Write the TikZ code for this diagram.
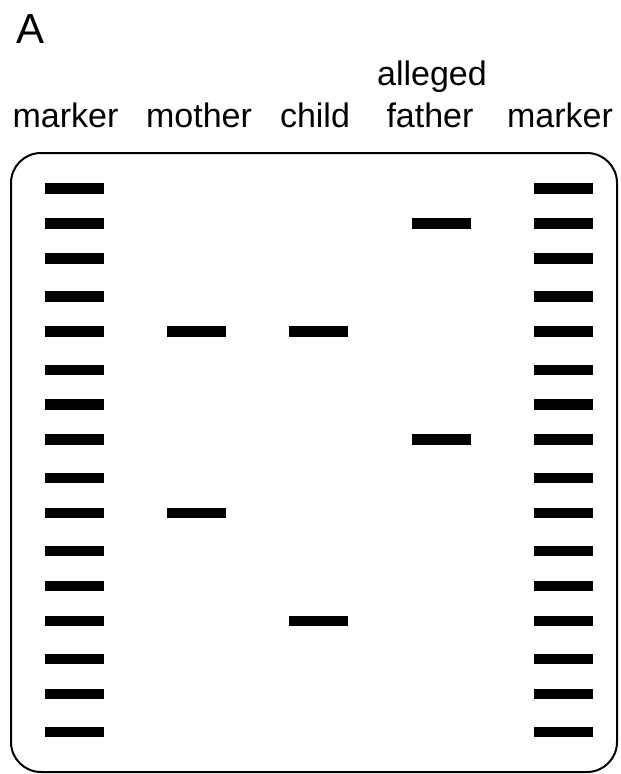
\documentclass[tikz,border=0pt]{standalone}
\usepackage{fontspec}
\setmainfont{Liberation Sans}
\usetikzlibrary{positioning}
\tikzset{
  %% gel outline
  GEL/.style={rectangle, rounded corners=30pt, draw=black, line width=2pt,
              minimum width=606pt, minimum height=619pt, inner sep=0pt},
  %% one DNA band
  BAND/.style={rectangle, fill=black, minimum width=59pt,
               minimum height=10.5pt, inner sep=0pt},
  %% lane label
  LBL/.style={font=\fontsize{34}{40}\selectfont, anchor=base, inner sep=0pt},
}

\begin{document}
\begin{tikzpicture}[x=1pt, y=-1pt]
\useasboundingbox (0,0) rectangle (621,774);

%% ════════════════════════════════════════════════
%%  LABELS
%% ════════════════════════════════════════════════
\node[font=\fontsize{42}{48}\selectfont, anchor=base west, inner sep=0pt]
  (tag) at (16,43) {A};

\node[LBL] (lmk) at (65.5,127) {marker};
\node[LBL] (lmo) at (199,127)  {mother};
\node[LBL] (lch) at (315,127)  {child};
\node[LBL] (lfa) at (430,127)  {father};
\node[LBL] (lal) at (432,85)   {alleged};
\node[LBL] (rmk) at (560,127)  {marker};

%% ════════════════════════════════════════════════
%%  GEL
%% ════════════════════════════════════════════════
\node[GEL] (gel) at (314,462.5) {};

%% ── marker ladders (both sides, 16 bands) ──
\foreach \y [count=\i] in {188.7,223.5,258.3,296.5,331.5,370,404.7,439.7,
                           478,513,551,586,621,659,694,732}
{
  \node[BAND] (ml\i) at (74.5,\y) {};
  \node[BAND] (mr\i) at (563,\y)  {};
}

%% ── mother ──
\node[BAND] (mo1) at (196.5,331.5) {};
\node[BAND] (mo2) at (196.5,513)   {};

%% ── child ──
\node[BAND] (ch1) at (318.5,331.5) {};
\node[BAND] (ch2) at (318.5,621)   {};

%% ── alleged father ──
\node[BAND] (fa1) at (441,223.5) {};
\node[BAND] (fa2) at (441,439.7) {};

\end{tikzpicture}
\end{document}
